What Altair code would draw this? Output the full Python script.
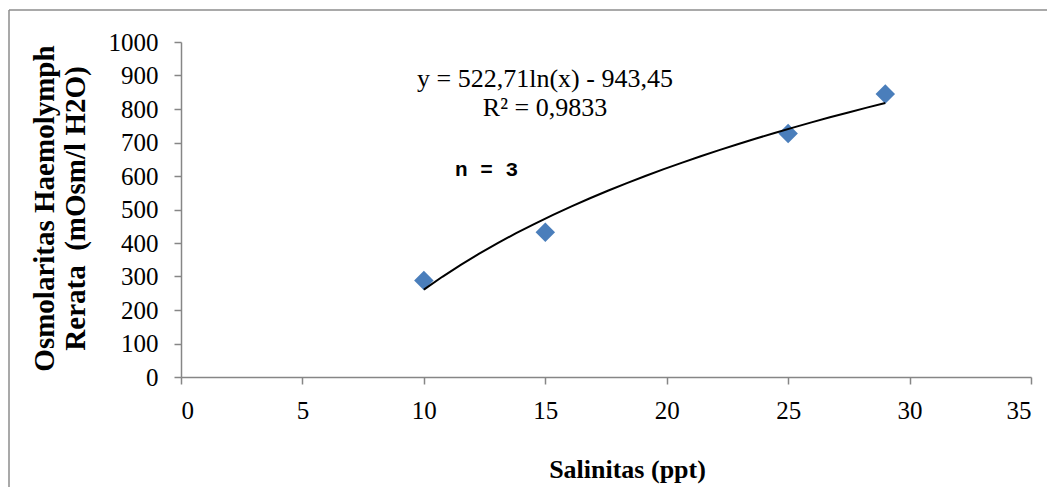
import altair as alt
import pandas as pd

salinitas = [10, 15, 25, 29]
osmolaritas = [288, 432, 727, 845]
x_ticks = [0, 5, 10, 15, 20, 25, 30, 35]
y_ticks = [0, 100, 200, 300, 400, 500, 600, 700, 800, 900, 1000]
equation_lines = ["y = 522,71ln(x) - 943,45", "R\u00b2 = 0,9833"]
n_label = "n = 3"

df = pd.DataFrame({"x": salinitas, "y": osmolaritas})
one = pd.DataFrame({"k": [0]})

W, H = 850, 335
SERIF = "Liberation Serif"
AXIS_GRAY = "#868686"

xscale = alt.Scale(domain=[0, 35], nice=False, zero=True)
yscale = alt.Scale(domain=[0, 1000], nice=False)

xaxis = alt.Axis(
    values=x_ticks, format="d", title="Salinitas (ppt)", grid=False,
    labelFontSize=25, labelPadding=14, tickSize=7, labelOverlap=False,
    tickCount=40,
    titleFontSize=26, titleFontWeight="bold", titleY=100, titleX=446,
    titleAlign="center", titleBaseline="alphabetic",
)
yaxis = alt.Axis(
    values=y_ticks, format="d", grid=False, labelOverlap=False, tickCount=40,
    title=["Osmolaritas Haemolymph", "Rerata \u00a0(mOsm/l H2O)"],
    labelFontSize=25, labelPadding=16, tickSize=7,
    titleFontSize=29, titleFontWeight="bold", titleAngle=-90,
    titleX=-128, titleY=166, titleAlign="center",
    titleBaseline="alphabetic", titleLineHeight=31,
)
xenc = alt.X("x:Q", scale=xscale, axis=xaxis)
yenc = alt.Y("y:Q", scale=yscale, axis=yaxis)

points = alt.Chart(df).mark_point(
    shape="diamond", filled=True, size=380, color="#4A7EBB", opacity=1
).encode(x=xenc, y=yenc)

trend = alt.Chart(df).transform_regression(
    "x", "y", method="log", extent=[10, 29]
).mark_line(color="black", strokeWidth=2).encode(x=xenc, y=yenc)

eq = alt.Chart(one).mark_text(
    font=SERIF, fontSize=26, align="center", baseline="alphabetic",
    lineHeight=29, color="black",
).encode(
    x=alt.value(364), y=alt.value(45), text=alt.value(equation_lines)
)

ntext = alt.Chart(one).mark_text(
    font="Liberation Mono", fontSize=21, align="left", baseline="middle",
    color="black", fontWeight="bold",
).encode(x=alt.value(274), y=alt.value(128), text=alt.value(n_label))

frame_v = alt.Chart(one).mark_rule(color="#8c8c8c", strokeWidth=1.5).encode(
    x=alt.value(-172), y=alt.value(-32), y2=alt.value(600)
)
frame_h = alt.Chart(one).mark_rule(color="#8c8c8c", strokeWidth=1.5).encode(
    x=alt.value(-172), x2=alt.value(1000), y=alt.value(-32)
)

chart = alt.layer(frame_v, frame_h, points, trend, eq, ntext).properties(
    width=W, height=H,
    autosize=alt.AutoSizeParams(type="none"),
    padding={"left": 173, "top": 34, "right": 16, "bottom": 110},
).configure_view(stroke=None).configure_axis(
    domainColor=AXIS_GRAY, domainWidth=1.5, tickColor=AXIS_GRAY, tickWidth=1.5,
    labelFont=SERIF, titleFont=SERIF, labelColor="black", titleColor="black",
)

chart.save("out.html", embed_options={"renderer": "svg", "actions": False})
